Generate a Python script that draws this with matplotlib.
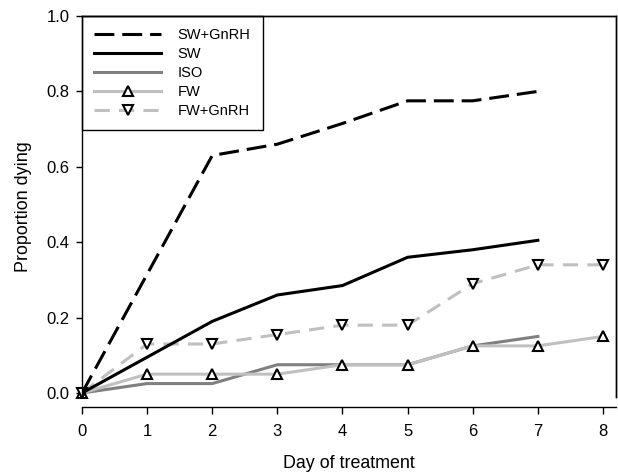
import matplotlib
matplotlib.use("Agg")
import matplotlib.pyplot as plt

plt.rcParams["font.family"] = ["Liberation Sans", "DejaVu Sans"]

# ── Data ───────────────────────────────────────────────────────────────────────
days_7 = [0, 1, 2, 3, 4, 5, 6, 7]
days_8 = [0, 1, 2, 3, 4, 5, 6, 7, 8]

sw_gnrh_days = [0, 2, 3, 4, 5, 6, 7]
sw_gnrh = [0.0, 0.63, 0.66, 0.715, 0.775, 0.775, 0.80]
sw = [0.0, 0.095, 0.19, 0.26, 0.285, 0.36, 0.38, 0.405]
iso = [0.0, 0.025, 0.025, 0.075, 0.075, 0.075, 0.125, 0.15]
fw = [0.0, 0.05, 0.05, 0.05, 0.075, 0.075, 0.125, 0.125, 0.15]
fw_gnrh = [0.0, 0.13, 0.13, 0.155, 0.18, 0.18, 0.29, 0.34, 0.34]

BLACK = "#000000"
DARK_GREY = "#808080"
LIGHT_GREY = "#c0c0c0"

fig = plt.figure(figsize=(6.18, 4.74), dpi=100)
# axes box: x 82..616 px, y 16..397 px
ax = fig.add_axes([82 / 618, 1 - 397 / 474, 534 / 618, 381 / 474])

ax.plot(sw_gnrh_days, sw_gnrh, color=BLACK, lw=2.2, dashes=(6.5, 2.6),
        label="SW+GnRH", zorder=5)
ax.plot(days_7, sw, color=BLACK, lw=2.2, label="SW", zorder=5)
ax.plot(days_7, iso, color=DARK_GREY, lw=2.2, label="ISO", zorder=3)
ax.plot(days_8, fw, color=LIGHT_GREY, lw=2.2, marker="^", ms=7,
        mfc="white", mec=BLACK, mew=1.5, label="FW", zorder=4, clip_on=False)
ax.plot(days_8, fw_gnrh, color=LIGHT_GREY, lw=2.2, dashes=(5, 3), marker="v",
        ms=7, mfc="white", mec=BLACK, mew=1.5, label="FW+GnRH", zorder=4,
        clip_on=False)

ax.set_xlim(0, 8.2)
ax.set_ylim(-0.0106, 1.0)
ax.set_xticks(range(0, 9))
ax.set_yticks([0.0, 0.2, 0.4, 0.6, 0.8, 1.0])
ax.set_yticklabels(["0.0", "0.2", "0.4", "0.6", "0.8", "1.0"])

# full frame, with the x axis pulled slightly away from the box
ax.spines["bottom"].set_position(("outward", 7.5))
for s in ax.spines.values():
    s.set_visible(True)
    s.set_linewidth(1.0)
    s.set_color(BLACK)
    s.set_zorder(10)
# top and right edges of the box, drawn explicitly as well
ax.plot([0, 1], [1, 1], transform=ax.transAxes, color=BLACK, lw=1.0,
        clip_on=False, zorder=10)
ax.plot([1, 1], [0, 1], transform=ax.transAxes, color=BLACK, lw=1.0,
        clip_on=False, zorder=10)

ax.tick_params(axis="x", direction="out", length=5, width=1.0,
               labelsize=12, pad=7, top=False)
ax.tick_params(axis="y", direction="out", length=4, width=1.0,
               labelsize=12, pad=5, right=False)

ax.set_xlabel("Day of treatment", fontsize=12.9, labelpad=11.5)
ax.set_ylabel("Proportion dying", fontsize=12.9, labelpad=10)

leg = ax.legend(loc="upper left", borderaxespad=0, fontsize=10.5,
                handlelength=4.6, handletextpad=1.1, labelspacing=0.33,
                fancybox=False, edgecolor=BLACK, framealpha=1,
                borderpad=0.85)
leg.get_frame().set_linewidth(1.0)

fig.savefig("out.png", dpi=100)
